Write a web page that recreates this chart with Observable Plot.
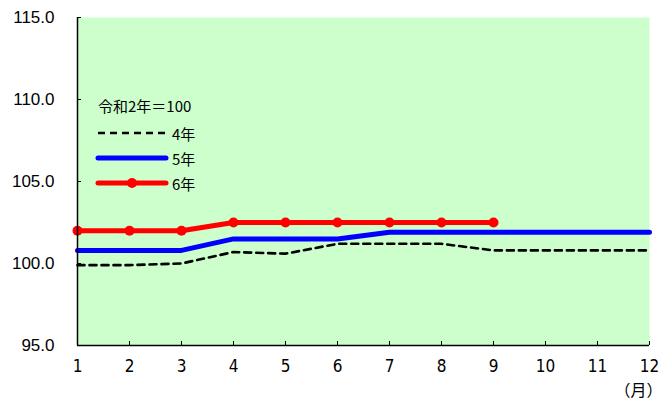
<!DOCTYPE html>
<html>
<head>
<meta charset="utf-8">
<script src="https://cdn.jsdelivr.net/npm/d3@7"></script>
<script src="https://cdn.jsdelivr.net/npm/@observablehq/plot@0.6"></script>
<style>
  html, body { margin: 0; padding: 0; background: #fff; }
  #wrap { position: relative; width: 662px; height: 403px; overflow: hidden; }
  #legend { position: absolute; left: 0; top: 0; }
</style>
</head>
<body>
<div id="wrap"></div>
<script>
const months = [1, 2, 3, 4, 5, 6, 7, 8, 9, 10, 11, 12];
const yTicks = [95, 100, 105, 110, 115];
const seriesNames = ["4年", "5年", "6年"];
const r4 = [99.9, 99.9, 100.0, 100.7, 100.6, 101.2, 101.2, 101.2, 100.8, 100.8, 100.8, 100.8];
const r5 = [100.8, 100.8, 100.8, 101.5, 101.5, 101.5, 101.9, 101.9, 101.9, 101.9, 101.9, 101.9];
const r6 = [102.0, 102.0, 102.0, 102.5, 102.5, 102.5, 102.5, 102.5, 102.5];
const baseNote = "令和2年＝100";
const xUnit = "（月）";

const d4 = r4.map((v, i) => ({month: months[i], value: v}));
const d5 = r5.map((v, i) => ({month: months[i], value: v}));
const d6 = r6.map((v, i) => ({month: months[i], value: v}));

const W = 662, H = 403;
const mL = 77, mR = 13, mT = 17, mB = 58;
const plotW = W - mL - mR, plotH = H - mT - mB;

const chart = Plot.plot({
  width: W,
  height: H,
  marginLeft: mL,
  marginRight: mR,
  marginTop: mT,
  marginBottom: mB,
  style: {background: "transparent", overflow: "visible"},
  x: {domain: [1, 12]},
  y: {domain: [95, 115]},
  marks: [
    Plot.frame({fill: "#CCFFCC", stroke: null}),
    Plot.axisY({ticks: yTicks, tickSize: 0, tickPadding: 23, tickFormat: d => d.toFixed(1), label: null,
      fontSize: 17, fontFamily: "Liberation Sans, Arial, sans-serif", fill: "#000"}),
    Plot.axisX({ticks: months, tickSize: 0, tickPadding: 14, tickFormat: d => String(d), label: null,
      fontSize: 17, fontFamily: "Liberation Sans Narrow, DejaVu Sans Condensed, sans-serif", fill: "#000"}),
    Plot.tickY(yTicks, {y: d => d, insetRight: plotW - 4, stroke: "#000", strokeWidth: 1}),
    Plot.tickX(months, {x: d => d, insetTop: plotH - 4, stroke: "#000", strokeWidth: 1}),
    Plot.lineY(d4, {x: "month", y: "value", stroke: "#000", strokeWidth: 2.6, strokeDasharray: "7,5"}),
    Plot.lineY(d5, {x: "month", y: "value", stroke: "#0000FF", strokeWidth: 5, strokeLinecap: "round"}),
    Plot.lineY(d6, {x: "month", y: "value", stroke: "#FF0000", strokeWidth: 5, strokeLinecap: "round"}),
    Plot.dot(d6, {x: "month", y: "value", r: 5, fill: "#FF0000", stroke: null}),
    Plot.ruleX([1], {stroke: "#000", strokeWidth: 1.5}),
    Plot.ruleY([95], {stroke: "#000", strokeWidth: 1.5}),
    Plot.text([xUnit], {frameAnchor: "bottom-right", lineAnchor: "middle", dy: 45, dx: -35, text: d => d, fontSize: 16,
      fontFamily: "Noto Sans CJK JP, sans-serif", fill: "#000", textAnchor: "start"})
  ]
});
const wrap = document.getElementById("wrap");
wrap.appendChild(chart);

// legend overlay
const ns = "http://www.w3.org/2000/svg";
const lg = document.createElementNS(ns, "svg");
lg.setAttribute("id", "legend");
lg.setAttribute("width", W);
lg.setAttribute("height", H);
const font = "Noto Sans CJK JP, sans-serif";
function el(tag, attrs, text) {
  const e = document.createElementNS(ns, tag);
  for (const k in attrs) e.setAttribute(k, attrs[k]);
  if (text) e.textContent = text;
  lg.appendChild(e);
  return e;
}
el("text", {x: 98, y: 105, "font-family": font, "font-size": 15, "dominant-baseline": "central", fill: "#000"}, baseNote);
const styles = [
  {stroke: "#000", width: 2.6, dash: "7,5", dot: false},
  {stroke: "#0000FF", width: 5, dash: null, dot: false},
  {stroke: "#FF0000", width: 5, dash: null, dot: true}
];
seriesNames.forEach((name, i) => {
  const y = 133 + i * 25;
  const s = styles[i];
  const a = {x1: 98, x2: 166, y1: y, y2: y, stroke: s.stroke, "stroke-width": s.width};
  if (s.dash) a["stroke-dasharray"] = s.dash; else a["stroke-linecap"] = "round";
  el("line", a);
  if (s.dot) el("circle", {cx: 132, cy: y, r: 5, fill: s.stroke});
  el("text", {x: 172, y: y, "font-family": font, "font-size": 15, "dominant-baseline": "central", fill: "#000"}, name);
});
wrap.appendChild(lg);
</script>
</body>
</html>
